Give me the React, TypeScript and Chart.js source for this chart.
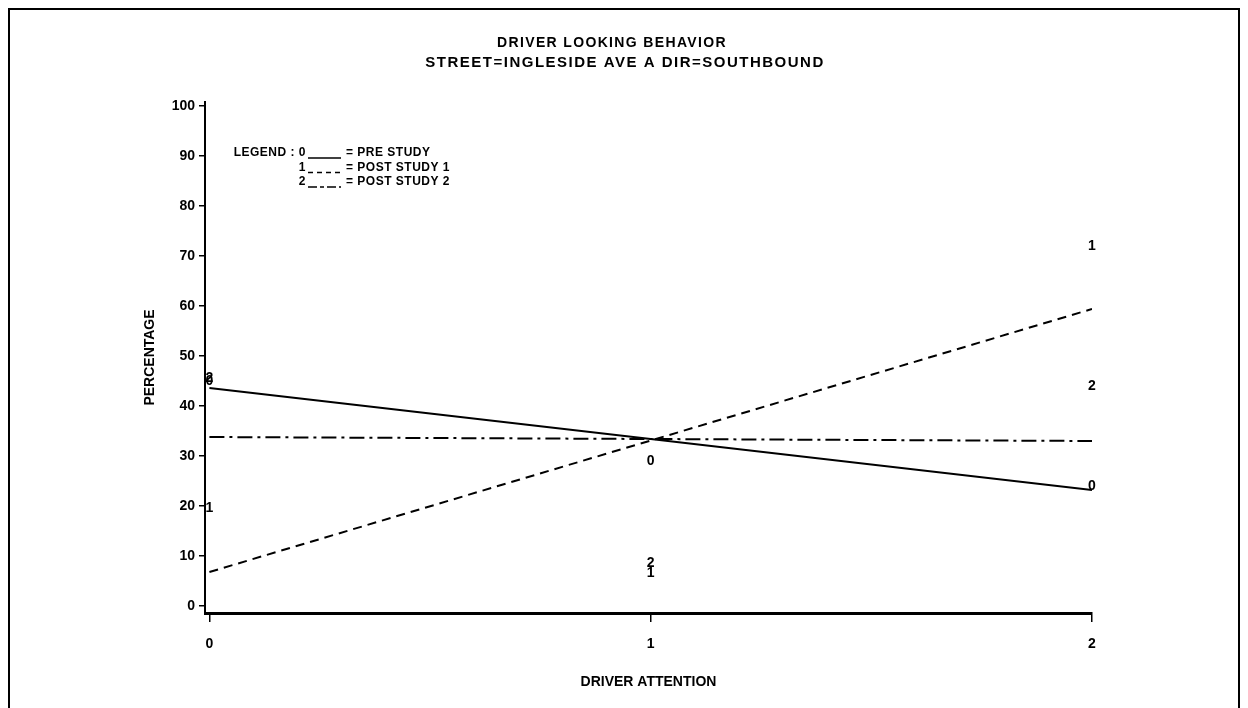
import React, { useEffect, useRef } from "react";
import { Chart, registerables } from "chart.js";

Chart.register(...registerables);

// ---- data ----
const titleLines = ["DRIVER LOOKING BEHAVIOR", "STREET=INGLESIDE AVE A DIR=SOUTHBOUND"];
const xAxisTitle = "DRIVER ATTENTION";
const yAxisTitle = "PERCENTAGE";
const xTicks = [0, 1, 2];
const yTicks = [0, 10, 20, 30, 40, 50, 60, 70, 80, 90, 100];
const attention = [0, 1, 2];
const preStudy = [45, 29, 24];
const postStudy1 = [19.5, 6.5, 72];
const postStudy2 = [45.5, 8.5, 44];
// fitted (regression) lines: values at x = 0 and x = 2
const fitX = [0, 2];
const preStudyFit = [43.6, 23.2];
const postStudy1Fit = [6.8, 59.4];
const postStudy2Fit = [33.8, 33.0];
const seriesSymbols = ["0", "1", "2"];
const seriesNames = ["PRE STUDY", "POST STUDY 1", "POST STUDY 2"];
const legendHeading = "LEGEND : ";

const FONT = "'Liberation Sans', Arial, Helvetica, sans-serif";

export default function App() {
  const ref = useRef<HTMLCanvasElement>(null);

  useEffect(() => {
    const canvas = ref.current as HTMLCanvasElement;
    const pts = (ys: number[]) => attention.map((x, i) => ({ x, y: ys[i] }));
    const fit = (ys: number[]) => fitX.map((x, i) => ({ x, y: ys[i] }));
    const pointSeries = [preStudy, postStudy1, postStudy2];
    const fitSeries = [preStudyFit, postStudy1Fit, postStudy2Fit];
    const lineDash = [[], [9, 6], [15, 5, 3, 5]];
    const legendDash = [[], [5, 4], [9, 3, 4, 3]];

    const datasets: any[] = [];
    fitSeries.forEach((ys, i) =>
      datasets.push({
        label: seriesNames[i] + " fit",
        data: fit(ys),
        showLine: true,
        borderColor: "#000",
        borderWidth: 2,
        borderDash: lineDash[i],
        pointRadius: 0,
        fill: false,
      })
    );
    pointSeries.forEach((ys, i) =>
      datasets.push({
        label: seriesNames[i],
        data: pts(ys),
        showLine: false,
        pointRadius: 0,
        symbol: seriesSymbols[i],
      })
    );

    const overlay = {
      id: "overlay",
      afterDatasetsDraw(chart: any) {
        const ctx = chart.ctx;
        ctx.save();
        ctx.fillStyle = "#000";
        ctx.font = `bold 14px ${FONT}`;
        ctx.textAlign = "center";
        ctx.textBaseline = "middle";
        chart.data.datasets.forEach((ds: any, i: number) => {
          if (!ds.symbol) return;
          const meta = chart.getDatasetMeta(i);
          meta.data.forEach((el: any) => ctx.fillText(ds.symbol, el.x, el.y));
        });
        ctx.restore();
      },
      afterDraw(chart: any) {
        const ctx = chart.ctx;
        ctx.save();
        ctx.fillStyle = "#000";
        ctx.strokeStyle = "#000";
        ctx.textBaseline = "middle";
        // titles
        ctx.textAlign = "center";
        ctx.font = `bold 14px ${FONT}`;
        (ctx as any).letterSpacing = "1.35px";
        ctx.fillText(titleLines[0], 602, 33);
        ctx.font = `bold 15px ${FONT}`;
        (ctx as any).letterSpacing = "1.5px";
        ctx.fillText(titleLines[1], 615, 53);
        // legend
        ctx.font = `bold 12px ${FONT}`;
        (ctx as any).letterSpacing = "0.5px";
        seriesNames.forEach((name, i) => {
          const y = 143 + i * 14.5;
          ctx.textAlign = "right";
          ctx.fillText(i === 0 ? legendHeading + seriesSymbols[i] : seriesSymbols[i], 296, y);
          ctx.beginPath();
          ctx.setLineDash(legendDash[i]);
          ctx.lineWidth = 1.5;
          ctx.moveTo(298, y + 5);
          ctx.lineTo(331, y + 5);
          ctx.stroke();
          ctx.setLineDash([]);
          ctx.textAlign = "left";
          ctx.fillText("= " + name, 336, y);
        });
        ctx.restore();
      },
    };

    const chart = new Chart(canvas, {
      type: "scatter",
      data: { datasets },
      plugins: [overlay],
      options: {
        animation: false,
        responsive: false,
        devicePixelRatio: 1,
        layout: { padding: { left: 0, top: 92, right: 146, bottom: 17 } },
        plugins: {
          legend: { display: false },
          tooltip: { enabled: false },
          title: { display: false },
        },
        scales: {
          x: {
            type: "linear",
            min: -0.01,
            max: 2,
            afterBuildTicks: (scale: any) => {
              scale.ticks = xTicks.map((v) => ({ value: v }));
            },
            afterFit: (scale: any) => {
              scale.height = 120;
            },
            ticks: {
              color: "#000",
              font: { family: FONT, size: 14, weight: "bold" },
              padding: 14,
              maxRotation: 0,
            },
            grid: {
              display: true,
              drawOnChartArea: false,
              drawTicks: true,
              tickLength: 9,
              color: "#000",
              lineWidth: 1.5,
            },
            border: { display: true, color: "#000", width: 3 },
            title: {
              display: true,
              text: xAxisTitle,
              color: "#000",
              font: { family: FONT, size: 14, weight: "bold" },
              padding: { top: 0, bottom: 42 },
            },
          },
          y: {
            type: "linear",
            min: -1.4,
            max: 100.8,
            afterBuildTicks: (scale: any) => {
              scale.ticks = yTicks.map((v) => ({ value: v }));
            },
            afterFit: (scale: any) => {
              scale.width = 195;
            },
            ticks: {
              color: "#000",
              font: { family: FONT, size: 14, weight: "bold" },
              padding: 4,
            },
            grid: {
              display: true,
              drawOnChartArea: false,
              drawTicks: true,
              tickLength: 6,
              color: "#000",
              lineWidth: 1.5,
            },
            border: { display: true, color: "#000", width: 2 },
            title: {
              display: true,
              text: yAxisTitle,
              color: "#000",
              font: { family: FONT, size: 14, weight: "bold" },
              padding: { top: 132, bottom: 0 },
            },
          },
        },
      } as any,
    });
    return () => chart.destroy();
  }, []);

  return (
    <div
      style={{
        border: "2px solid #000",
        width: 1228,
        height: 740,
        overflow: "hidden",
        background: "#fff",
      }}
    >
      <canvas ref={ref} width={1228} height={740} style={{ display: "block", width: 1228, height: 740 }} />
    </div>
  );
}
